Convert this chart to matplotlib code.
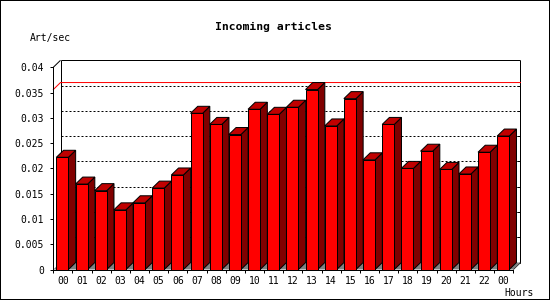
import matplotlib
matplotlib.use("Agg")
import matplotlib.pyplot as plt
from matplotlib.patches import Polygon, Rectangle
import numpy as np

# ---- data ----
hours = ["00", "01", "02", "03", "04", "05", "06", "07", "08", "09", "10", "11",
         "12", "13", "14", "15", "16", "17", "18", "19", "20", "21", "22", "00"]
values = [0.0222, 0.0169, 0.0156, 0.0118, 0.0132, 0.0161, 0.0187, 0.0309,
          0.0287, 0.0267, 0.0317, 0.0307, 0.0321, 0.0356, 0.0284, 0.0338,
          0.0217, 0.0287, 0.0200, 0.0234, 0.0198, 0.0189, 0.0232, 0.0264]
yticks = [0, 0.005, 0.01, 0.015, 0.02, 0.025, 0.03, 0.035, 0.04]
ytick_labels = ["0", "0.005", "0.01", "0.015", "0.02", "0.025", "0.03", "0.035", "0.04"]
title = "Incoming articles"
ylabel = "Art/sec"
xlabel = "Hours"

# ---- style ----
W, H = 550, 300
FRONT = "#ff0000"
TOP = "#c00000"
SIDE = "#800000"
FLOOR = "#808080"
LW = 0.72
MONO = "DejaVu Sans Mono"

fig = plt.figure(figsize=(W / 100, H / 100), dpi=100)
fig.patch.set_facecolor("white")

# front plane axes in pixel geometry
x0_px, x1_px = 53.3, 513.3
y0_px, y1_px = 269.5, 67.3
ax = fig.add_axes([x0_px / W, (H - y0_px) / H, (x1_px - x0_px) / W, (y0_px - y1_px) / H])
n = len(values)
ymax = 0.04
ax.set_xlim(0, n)
ax.set_ylim(0, ymax)
ax.set_facecolor("none")

# 3D depth offset (px -> data)
px_x = n / (x1_px - x0_px)
px_y = ymax / (y0_px - y1_px)
dx = 7.2 * px_x
dy = 7.0 * px_y

# back plane frame
kw = dict(color="black", lw=LW, clip_on=False, zorder=1, solid_capstyle="butt")
ax.plot([dx, n + dx], [ymax + dy, ymax + dy], **kw)
ax.plot([dx, dx], [dy, ymax + dy], **kw)
ax.plot([n + dx, n + dx], [dy, ymax + dy], **kw)
ax.plot([dx, n + dx], [dy, dy], **kw)
ax.plot([0, dx], [ymax, ymax + dy], **kw)
ax.plot([n, n + dx], [0, dy], **kw)

# gridlines on back plane + inward ticks on back right axis
for v in yticks[1:-1]:
    ax.plot([dx, n + dx], [v + dy, v + dy], color="black", lw=LW,
            linestyle=(0, (2, 2)), clip_on=False, zorder=1)
    ax.plot([n + dx - 3 * px_x, n + dx], [v + dy, v + dy], **kw)

# max line
vmax = max(values)
ax.plot([0, dx, n + dx], [vmax, vmax + dy, vmax + dy], color="#ff0000",
        lw=LW, clip_on=False, zorder=1.5)

# floor
ax.add_patch(Polygon([(0, 0), (dx, dy), (n + dx, dy), (n, 0)], closed=True,
                     facecolor=FLOOR, edgecolor="none", clip_on=False, zorder=2))

# bars
off, bw = 0.16, 0.63
for i, v in enumerate(values):
    xl = i + off
    xr = xl + bw
    z = 3 + i * 0.01
    side = Polygon([(xr, 0), (xr + dx, dy), (xr + dx, v + dy), (xr, v)], closed=True,
                   facecolor=SIDE, edgecolor="black", lw=LW, clip_on=False, zorder=z)
    top = Polygon([(xl, v), (xl + dx, v + dy), (xr + dx, v + dy), (xr, v)], closed=True,
                  facecolor=TOP, edgecolor="black", lw=LW, clip_on=False, zorder=z)
    ax.add_patch(side)
    ax.add_patch(top)
ax.bar(np.arange(n) + off, values, width=bw, align="edge", color=FRONT,
       edgecolor="black", lw=LW, zorder=3.5, clip_on=False)

# spines and ticks
for s in ["top", "right"]:
    ax.spines[s].set_visible(False)
for s in ["left", "bottom"]:
    ax.spines[s].set_linewidth(LW)
    ax.spines[s].set_zorder(4)
ax.set_yticks(yticks)
ax.set_yticklabels(ytick_labels, family=MONO, fontsize=7)
ax.set_xticks(np.arange(n) + 0.5)
ax.set_xticklabels(hours, family=MONO, fontsize=7)
ax.set_xticks(np.arange(n + 1), minor=True)
ax.tick_params(axis="x", which="major", length=0, pad=5)
ax.tick_params(axis="x", which="minor", length=2.3, width=LW, direction="out")
ax.tick_params(axis="y", which="major", length=2.3, width=LW, direction="out", pad=4.5)

# texts
fig.text(273.5 / W, 1 - 27 / H, title, ha="center", va="center",
         family=MONO, fontsize=8.2, fontweight="bold")
fig.text(30 / W, 1 - 37.5 / H, ylabel, ha="left", va="center", family=MONO, fontsize=7)
fig.text(534 / W, 1 - 292.5 / H, xlabel, ha="right", va="center", family=MONO, fontsize=7)

# outer border (2px wide centred on the image edge -> 1px visible on every side)
fig.add_artist(Rectangle((0, 0), 1, 1, transform=fig.transFigure,
                         fill=False, edgecolor="black", lw=1.44, clip_on=False))

fig.savefig("out.png", dpi=100, facecolor="white")
